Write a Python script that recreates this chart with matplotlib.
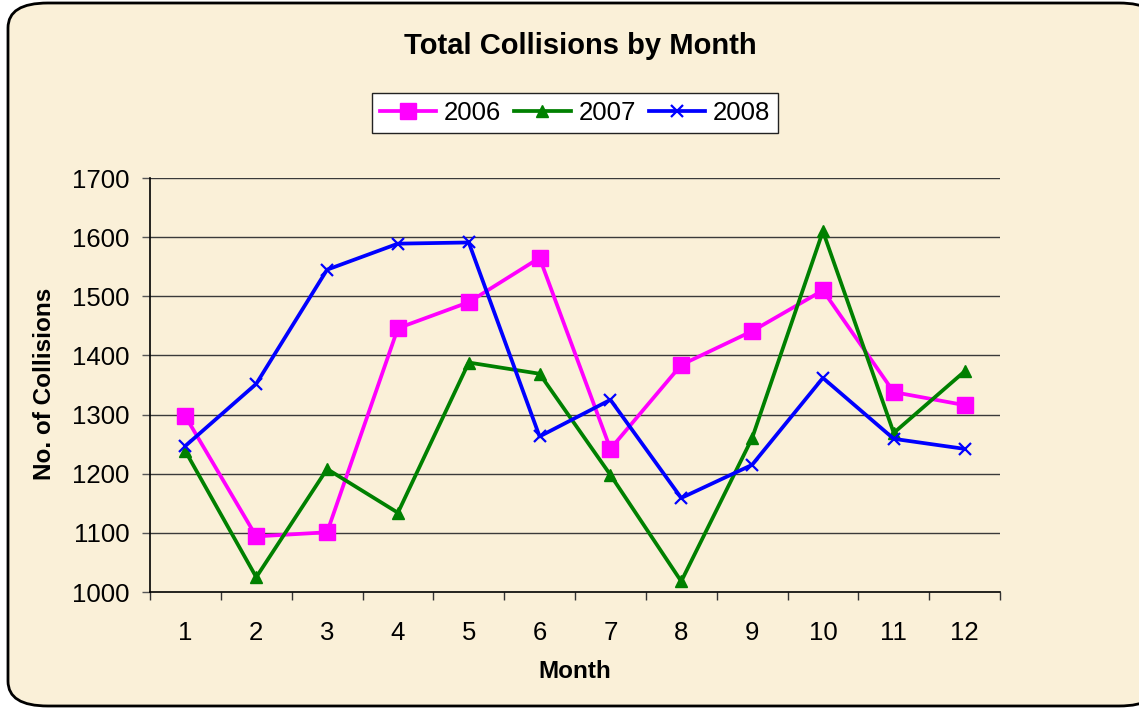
import matplotlib
matplotlib.use("Agg")
import matplotlib.pyplot as plt
from matplotlib.patches import FancyBboxPatch

# data
months = [1, 2, 3, 4, 5, 6, 7, 8, 9, 10, 11, 12]
y2006 = [1297, 1094, 1101, 1446, 1490, 1565, 1242, 1384, 1441, 1510, 1338, 1316]
y2007 = [1238, 1025, 1208, 1134, 1388, 1369, 1198, 1018, 1260, 1610, 1269, 1373]
y2008 = [1247, 1352, 1545, 1589, 1591, 1263, 1325, 1159, 1215, 1362, 1259, 1242]
yticks = [1000, 1100, 1200, 1300, 1400, 1500, 1600, 1700]

bg = "#FAF0D8"
plt.rcParams['font.family'] = ['Liberation Sans', 'DejaVu Sans']

W, H = 1139, 710
fig = plt.figure(figsize=(W / 100, H / 100), dpi=100)
fig.patch.set_facecolor("white")

# rounded chart border, kept behind the axes
border = FancyBboxPatch((8 / W, 4 / H), (W + 20 - 8) / W, (H - 7) / H,
                        boxstyle="round,pad=0,rounding_size=0.035",
                        transform=fig.transFigure, facecolor=bg,
                        edgecolor="black", linewidth=2, zorder=-5)
fig.patches.append(border)

ax = fig.add_axes([150 / W, 1 - 592 / H, 850 / W, 414 / H])
ax.set_facecolor("none")
ax.set_zorder(2)

ax.plot(months, y2006, color="#FF00FF", lw=2.7, marker="s", ms=12, label="2006", zorder=3)
ax.plot(months, y2007, color="#008000", lw=2.7, marker="^", ms=9, label="2007", zorder=3)
ax.plot(months, y2008, color="#0000FF", lw=2.7, marker="x", ms=9, mew=1.6, label="2008", zorder=3)

ax.set_xlim(0.5, 12.5)
ax.set_ylim(1000, 1700)
ax.set_yticks(yticks)
ax.set_yticklabels([str(v) for v in yticks], fontsize=18.5)
for v in yticks[1:]:
    ax.axhline(v, color="#3a3a3a", lw=1.0, zorder=1)

# ticks between categories, labels at centres
ax.set_xticks([m - 0.5 for m in months] + [12.5])
ax.set_xticklabels([])
ax.set_xticks(months, minor=True)
ax.set_xticklabels([str(m) for m in months], minor=True, fontsize=18.5)
ax.tick_params(axis="x", which="major", direction="out", length=6, width=1, color="#333333")
ax.tick_params(axis="x", which="minor", length=0, pad=21)
ax.tick_params(axis="y", direction="out", length=6, width=1, color="#555555", pad=9)

for s in ["top", "right"]:
    ax.spines[s].set_visible(False)
ax.spines["left"].set_linewidth(1.2)
ax.spines["bottom"].set_linewidth(1.2)

fig.text(580 / W, 1 - 46 / H, "Total Collisions by Month", ha="center", va="center",
         fontsize=21, fontweight="bold")
fig.text(575 / W, 1 - 671 / H, "Month", ha="center", va="center", fontsize=17.5, fontweight="bold")
fig.text(45 / W, 1 - 384 / H, "No. of Collisions", ha="center", va="center",
         rotation=90, fontsize=17.5, fontweight="bold")

leg = fig.legend(loc="center", bbox_to_anchor=(575 / W, 1 - 113 / H), ncol=3, fontsize=18.5,
                 frameon=True, fancybox=False, edgecolor="#222222", framealpha=1,
                 handlelength=2.2, handletextpad=0.3, columnspacing=0.5,
                 borderpad=0.3, borderaxespad=0)
leg.get_frame().set_linewidth(1.0)

fig.savefig("out.png", dpi=100, facecolor=fig.get_facecolor())
